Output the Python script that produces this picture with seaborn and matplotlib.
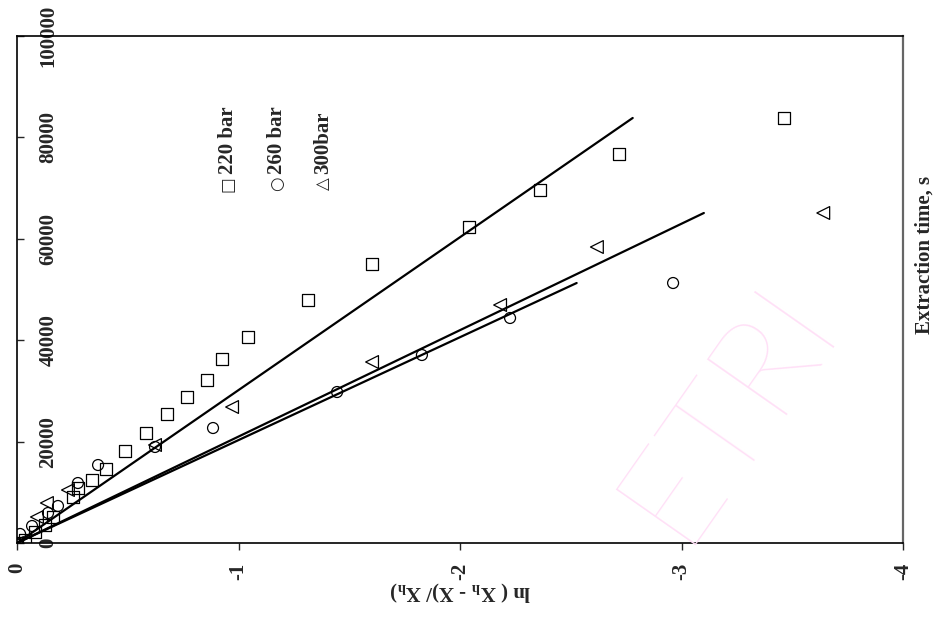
import numpy as np
import pandas as pd
import matplotlib
matplotlib.use("Agg")
import matplotlib.pyplot as plt
import seaborn as sns

# Extraction time (s) and ln((Xh - X)/Xh) at each pressure
time_220 = [0, 590, 2170, 3550, 5130, 9070, 10850, 12430, 14600, 18150, 21700,
            25440, 28800, 32150, 36290, 40630, 47930, 55030, 62330, 69620, 76730, 83830]
ln_220 = [0, -0.036, -0.081, -0.126, -0.163, -0.253, -0.275, -0.339, -0.402, -0.488, -0.582,
          -0.677, -0.767, -0.858, -0.926, -1.043, -1.314, -1.603, -2.041, -2.361, -2.718, -3.463]

time_260 = [0, 1780, 3350, 5920, 7300, 11830, 15380, 18940, 22680, 29780, 37080, 44380, 51280]
ln_260 = [0, -0.014, -0.068, -0.140, -0.185, -0.275, -0.366, -0.623, -0.885, -1.445, -1.828, -2.226, -2.962]

time_300 = [0, 5130, 7890, 10450, 19330, 26820, 35700, 46940, 58380, 65090]
ln_300 = [0, -0.090, -0.135, -0.230, -0.623, -0.971, -1.603, -2.181, -2.618, -3.640]

series_names = ["220 bar", "260 bar", "300bar"]
legend_symbols = ["\u25a1", "\u25cb", "\u25b3"]
x_ticks = [0, -1, -2, -3, -4]
x_tick_labels = ["0", "-1", "-2", "-3", "-4"]
y_ticks = [0, 20000, 40000, 60000, 80000, 100000]
y_tick_labels = ["0", "20000", "40000", "60000", "80000", "100000"]

sns.set_style("white")
plt.rcParams["font.family"] = ["Liberation Serif", "DejaVu Serif"]
plt.rcParams["font.weight"] = "bold"
plt.rcParams["axes.unicode_minus"] = False

fig = plt.figure(figsize=(9.43, 6.19), dpi=100)
ax = fig.add_axes([17 / 943, 1 - 543 / 619, 886 / 943, 507 / 619])

# faint diagonal watermark
fig.text(728 / 943, 1 - 410 / 619, "ETRI", color="#ffe0f7", fontsize=100,
         rotation=55, ha="center", va="center", family=["Lato", "DejaVu Sans"],
         fontweight="light", zorder=0)

groups = [
    (time_220, ln_220, "s", 80),
    (time_260, ln_260, "o", 62),
    (time_300, ln_300, "<", 85),
]

for (t, ln, marker, size) in groups:
    df = pd.DataFrame({"time": t, "ln": ln})
    # regression through the origin: ln = k * t
    tt = np.asarray(t, dtype=float)
    yy = np.asarray(ln, dtype=float)
    k = np.sum(tt * yy) / np.sum(tt * tt)
    fit = pd.DataFrame({"time": [0.0, tt.max()], "ln": [0.0, k * tt.max()]})
    sns.lineplot(data=fit, x="ln", y="time", ax=ax, color="black", linewidth=1.6,
                 sort=False, estimator=None)
    sns.scatterplot(data=df, x="ln", y="time", ax=ax, marker=marker, s=size,
                    facecolor="none", edgecolor="black", linewidth=0.9, zorder=3)

ax.set_xlim(0, -4)
ax.set_ylim(0, 100000)
ax.set_xticks(x_ticks)
ax.set_xticklabels(x_tick_labels, rotation=90, fontsize=15, fontweight="bold")
ax.set_yticks(y_ticks)
ax.set_yticklabels(y_tick_labels, fontsize=15, fontweight="bold")

ax.tick_params(axis="x", direction="out", length=5, width=1, pad=9, bottom=True)
ax.tick_params(axis="y", direction="in", length=5, width=1, pad=-22.5, left=True)
for lab in ax.get_yticklabels():
    lab.set_rotation(90)
    lab.set_ha("center")
    lab.set_va("center")
for lab in ax.get_xticklabels():
    lab.set_ha("center")
    lab.set_va("top")

for side in ["left", "bottom", "top"]:
    ax.spines[side].set_color("black")
    ax.spines[side].set_linewidth(1.2)
ax.spines["right"].set_color("#666666")
ax.spines["right"].set_linewidth(1.6)

ax.set_xlabel("ln ( X$_\\mathregular{h}$ - X)/ X$_\\mathregular{h}$)", fontsize=15,
              fontweight="bold", rotation=180)
ax.xaxis.set_label_coords(0.5, (543 - 591) / 507)
ax.xaxis.label.set_va("center")

ax.set_ylabel("Extraction time, s", fontsize=15, fontweight="bold", rotation=90)
ax.yaxis.set_label_coords((925 - 17) / 886, (543 - 255) / 507)
ax.yaxis.label.set_va("center")
ax.yaxis.label.set_ha("center")

# rotated key written as text
key_x = [228, 277, 323]
for name, sym, xp in zip(series_names, legend_symbols, key_x):
    fig.text(xp / 943, 1 - 184 / 619, sym, rotation=90, fontsize=12,
             fontweight="normal", ha="center", va="center",
             family=["DejaVu Sans"])
    fig.text(xp / 943, 1 - 174 / 619, name, rotation=90, fontsize=15,
             fontweight="bold", ha="center", va="bottom")

fig.savefig("out.png", dpi=100, facecolor="white")
